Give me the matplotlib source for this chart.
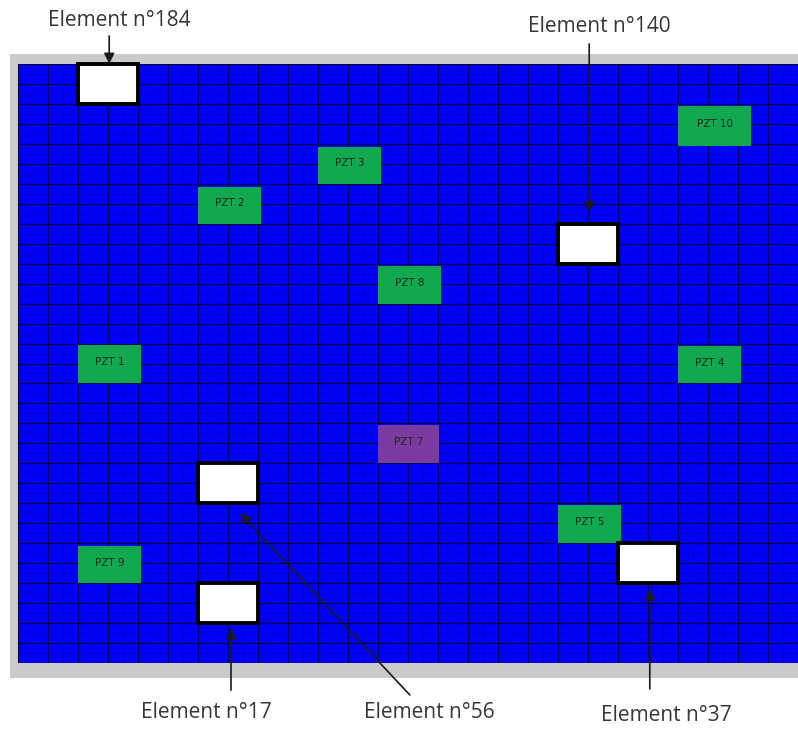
import matplotlib
matplotlib.use("Agg")
import matplotlib.pyplot as plt
from matplotlib.patches import Rectangle
import numpy as np

# ---------------- data ----------------
n_cols = 13
n_rows = 15

pzt_labels = ['PZT 1', 'PZT 2', 'PZT 3', 'PZT 4', 'PZT 5', 'PZT 7', 'PZT 8', 'PZT 9', 'PZT 10']
pzt_x = [1.0, 3.0, 5.0, 11.0, 9.0, 6.0, 6.0, 1.0, 11.0]
pzt_y = [7.0, 11.0, 12.0, 7.0, 3.0, 5.0, 9.0, 2.0, 12.95]
pzt_w = [1.05, 1.05, 1.05, 1.05, 1.05, 1.02, 1.05, 1.05, 1.22]
pzt_h = [0.97, 0.93, 0.93, 0.95, 0.95, 0.95, 0.95, 0.92, 1.0]
pzt_colors = ['#12a850', '#12a850', '#12a850', '#12a850', '#12a850',
              '#7a3aa0', '#12a850', '#12a850', '#12a850']

element_ids = [184, 140, 17, 56, 37]
element_labels = ['Element n°184', 'Element n°140', 'Element n°17', 'Element n°56', 'Element n°37']
# arrow tails / tips in element units
arrow_tail = [(1.52, 15.7), (9.52, 15.5), (3.55, -0.68), (6.53, -0.8), (10.53, -0.65)]
arrow_tip = [(1.52, 15.0), (9.52, 11.28), (3.55, 0.87), (3.7, 3.75), (10.53, 1.85)]
# label positions (figure pixels from top-left: centre x, baseline y)
label_pos = [(119, 26), (599, 32), (206, 718), (429, 718), (666, 721)]

# ---------------- figure ----------------
W, H = 798, 729
fig = plt.figure(figsize=(W / 100, H / 100), dpi=100)
fig.patch.set_facecolor('white')

# gray frame
frame = Rectangle((10 / W, (H - 678) / H), (W - 10) / W, (678 - 54) / H,
                  transform=fig.transFigure, facecolor='#cacaca',
                  edgecolor='none', zorder=-5)
fig.patches.append(frame)

ax = fig.add_axes([18 / W, (H - 663) / H, 780 / W, 599 / H])
ax.set_zorder(2)
ax.set_xlim(0, n_cols)
ax.set_ylim(0, n_rows)
ax.set_facecolor('#0000fa')
for s in ax.spines.values():
    s.set_visible(False)
ax.set_xticks([])
ax.set_yticks([])

# mesh lines
for xv in np.arange(0, n_cols + 0.01, 0.5):
    ax.axvline(xv, color='#000058', lw=1.0, zorder=1)
for yv in np.arange(0, n_rows + 0.01, 0.5):
    ax.axhline(yv, color='#000058', lw=1.0, zorder=1)
for xv in np.arange(0.25, n_cols, 0.5):
    ax.axvline(xv, color='#0000b8', lw=0.5, zorder=1)
for yv in np.arange(0.25, n_rows, 0.5):
    ax.axhline(yv, color='#0000b8', lw=0.5, zorder=1)

# PZT patches
for lab, x, y, w, h, c in zip(pzt_labels, pzt_x, pzt_y, pzt_w, pzt_h, pzt_colors):
    ax.add_patch(Rectangle((x, y), w, h, facecolor=c, edgecolor='none', zorder=3))
    ax.text(x + w / 2, y + h / 2 + 0.05, lab, ha='center', va='center',
            fontsize=7.5, color='#1e2a1e', family='DejaVu Sans', zorder=4)

# highlighted elements
for eid in element_ids:
    row = (eid - 1) // n_cols
    col = (eid - 1) % n_cols
    ax.add_patch(Rectangle((col, row), 1, 1, facecolor='white', edgecolor='black',
                           lw=2.8, zorder=5, clip_on=False))

# arrows
for tail, tip in zip(arrow_tail, arrow_tip):
    ax.annotate('', xy=tip, xytext=tail, xycoords='data', textcoords='data',
                annotation_clip=False,
                arrowprops=dict(arrowstyle='-|>,head_length=0.45,head_width=0.22',
                                color='#1a1a1a', lw=1.2, shrinkA=0, shrinkB=0,
                                mutation_scale=14), zorder=6)

# labels
for lab, (px, py) in zip(element_labels, label_pos):
    fig.text(px / W, 1 - py / H, lab, ha='center', va='baseline',
             fontsize=15, color='#363636', family='Open Sans')

fig.savefig('out.png', dpi=100)
